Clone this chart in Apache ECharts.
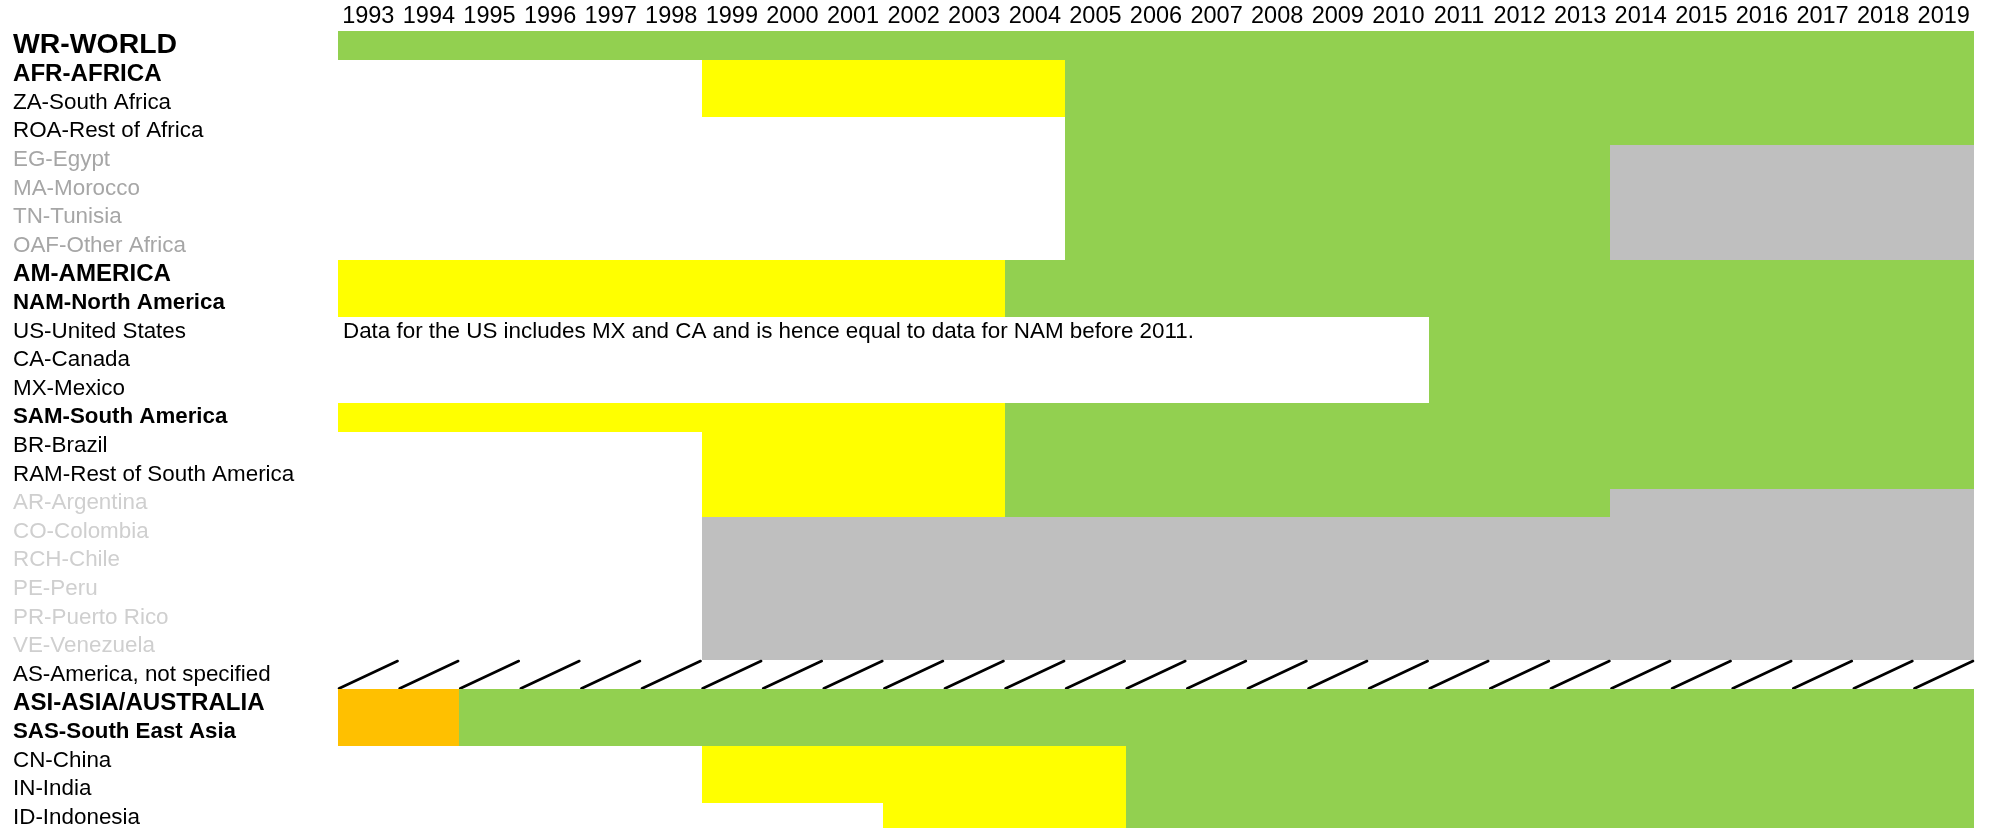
<!DOCTYPE html>
<html>
<head>
<meta charset="utf-8">
<script src="https://cdn.jsdelivr.net/npm/echarts@6/dist/echarts.min.js"></script>
<style>
  html, body { margin: 0; padding: 0; background: #fff; }
  #chart { width: 1989px; height: 828px; }
</style>
</head>
<body>
<div id="chart"></div>
<script>
// ---- data ----
const years = ['1993','1994','1995','1996','1997','1998','1999','2000','2001','2002','2003','2004','2005',
  '2006','2007','2008','2009','2010','2011','2012','2013','2014','2015','2016','2017','2018','2019'];

const regions = ['WR-WORLD','AFR-AFRICA','ZA-South Africa','ROA-Rest of Africa','EG-Egypt','MA-Morocco',
  'TN-Tunisia','OAF-Other Africa','AM-AMERICA','NAM-North America','US-United States','CA-Canada',
  'MX-Mexico','SAM-South America','BR-Brazil','RAM-Rest of South America','AR-Argentina','CO-Colombia',
  'RCH-Chile','PE-Peru','PR-Puerto Rico','VE-Venezuela','AS-America, not specified','ASI-ASIA/AUSTRALIA',
  'SAS-South East Asia','CN-China','IN-India','ID-Indonesia'];

// hierarchy level of each region row
const levels = ['world','continent','country','country','minorA','minorA','minorA','minorA',
  'continent','subregion','country','country','country','subregion','country','country',
  'minorB','minorB','minorB','minorB','minorB','minorB','country','continent','subregion',
  'country','country','country'];

// status codes: G = green, Y = yellow, O = orange, X = grey, H = not specified (diagonal)
const statuses = ['G','Y','O','X','H'];

// periods: [region, fromYear, toYear, status]
const periods = [
  ['WR-WORLD', '1993', '2019', 'G'],
  ['AFR-AFRICA', '1999', '2004', 'Y'], ['AFR-AFRICA', '2005', '2019', 'G'],
  ['ZA-South Africa', '1999', '2004', 'Y'], ['ZA-South Africa', '2005', '2019', 'G'],
  ['ROA-Rest of Africa', '2005', '2019', 'G'],
  ['EG-Egypt', '2005', '2013', 'G'], ['EG-Egypt', '2014', '2019', 'X'],
  ['MA-Morocco', '2005', '2013', 'G'], ['MA-Morocco', '2014', '2019', 'X'],
  ['TN-Tunisia', '2005', '2013', 'G'], ['TN-Tunisia', '2014', '2019', 'X'],
  ['OAF-Other Africa', '2005', '2013', 'G'], ['OAF-Other Africa', '2014', '2019', 'X'],
  ['AM-AMERICA', '1993', '2003', 'Y'], ['AM-AMERICA', '2004', '2019', 'G'],
  ['NAM-North America', '1993', '2003', 'Y'], ['NAM-North America', '2004', '2019', 'G'],
  ['US-United States', '2011', '2019', 'G'],
  ['CA-Canada', '2011', '2019', 'G'],
  ['MX-Mexico', '2011', '2019', 'G'],
  ['SAM-South America', '1993', '2003', 'Y'], ['SAM-South America', '2004', '2019', 'G'],
  ['BR-Brazil', '1999', '2003', 'Y'], ['BR-Brazil', '2004', '2019', 'G'],
  ['RAM-Rest of South America', '1999', '2003', 'Y'], ['RAM-Rest of South America', '2004', '2019', 'G'],
  ['AR-Argentina', '1999', '2003', 'Y'], ['AR-Argentina', '2004', '2013', 'G'], ['AR-Argentina', '2014', '2019', 'X'],
  ['CO-Colombia', '1999', '2019', 'X'],
  ['RCH-Chile', '1999', '2019', 'X'],
  ['PE-Peru', '1999', '2019', 'X'],
  ['PR-Puerto Rico', '1999', '2019', 'X'],
  ['VE-Venezuela', '1999', '2019', 'X'],
  ['AS-America, not specified', '1993', '2019', 'H'],
  ['ASI-ASIA/AUSTRALIA', '1993', '1994', 'O'], ['ASI-ASIA/AUSTRALIA', '1995', '2019', 'G'],
  ['SAS-South East Asia', '1993', '1994', 'O'], ['SAS-South East Asia', '1995', '2019', 'G'],
  ['CN-China', '1999', '2005', 'Y'], ['CN-China', '2006', '2019', 'G'],
  ['IN-India', '1999', '2005', 'Y'], ['IN-India', '2006', '2019', 'G'],
  ['ID-Indonesia', '2002', '2005', 'Y'], ['ID-Indonesia', '2006', '2019', 'G']
];

const notes = [
  ['US-United States', '1993', 'Data for the US includes MX and CA and is hence equal to data for NAM before 2011.']
];

// ---- styles ----
const FONT = "'Liberation Sans', Arial, sans-serif";
const statusColors = { G: '#92d050', Y: '#ffff00', O: '#ffc000', X: '#bfbfbf', H: null };

const periodData = periods.map(p => [years.indexOf(p[1]), years.indexOf(p[2]), regions.indexOf(p[0]), statuses.indexOf(p[3])]);
const noteData = notes.map(n => [years.indexOf(n[1]), regions.indexOf(n[0]), n[2]]);

const chart = echarts.init(document.getElementById('chart'), null, { renderer: 'canvas' });

chart.setOption({
  animation: false,
  backgroundColor: '#ffffff',
  grid: { left: 338, right: 15, top: 31, bottom: -4, outerBoundsMode: 'none', containLabel: false },
  xAxis: {
    type: 'category',
    data: years,
    position: 'top',
    axisLine: { show: false },
    axisTick: { show: false },
    splitLine: { show: false },
    axisLabel: { interval: 0, fontSize: 23.5, color: '#000', fontFamily: FONT, margin: 2 }
  },
  yAxis: {
    type: 'category',
    data: regions,
    inverse: true,
    axisLine: { show: false },
    axisTick: { show: false },
    splitLine: { show: false },
    axisLabel: {
      interval: 0,
      align: 'left',
      margin: 325,
      fontFamily: FONT,
      formatter: (value, idx) => '{' + levels[idx] + '|' + value + '}',
      rich: {
        world: { fontSize: 28.4, fontWeight: 'bold', color: '#000', fontFamily: FONT },
        continent: { fontSize: 24.1, fontWeight: 'bold', color: '#000', fontFamily: FONT },
        subregion: { fontSize: 22.3, fontWeight: 'bold', color: '#000', fontFamily: FONT },
        country: { fontSize: 22.4, color: '#000', fontFamily: FONT },
        minorA: { fontSize: 22.4, color: '#a6a6a6', fontFamily: FONT },
        minorB: { fontSize: 22.4, color: '#cfcfcf', fontFamily: FONT }
      }
    }
  },
  series: [
    {
      type: 'custom',
      encode: { x: [0, 1], y: 2 },
      data: periodData,
      clip: false,
      renderItem: (params, api) => {
        const s = api.value(0), e = api.value(1), r = api.value(2), st = statuses[api.value(3)];
        const p0 = api.coord([s, r]);
        const p1 = api.coord([e, r]);
        const sz = api.size([1, 1]);
        const x0 = Math.round(p0[0] - sz[0] / 2);
        const x1 = Math.round(p1[0] + sz[0] / 2);
        const y0 = Math.round(p0[1] - sz[1] / 2);
        const y1 = Math.round(p0[1] + sz[1] / 2);
        if (st === 'H') {
          const children = [];
          for (let i = s; i <= e; i++) {
            const c = api.coord([i, r]);
            const lx = c[0] - sz[0] / 2;
            children.push({
              type: 'line',
              shape: { x1: lx + 1, y1: y1 - 0.5, x2: lx + sz[0] - 1, y2: y0 + 1 },
              style: { stroke: '#000', lineWidth: 2.6, lineCap: 'round' }
            });
          }
          return { type: 'group', children };
        }
        return {
          type: 'rect',
          shape: { x: x0, y: y0, width: x1 - x0, height: y1 - y0 },
          style: { fill: statusColors[st] }
        };
      }
    },
    {
      type: 'custom',
      encode: { x: 0, y: 1 },
      data: noteData,
      clip: false,
      z: 5,
      renderItem: (params, api) => {
        const c = api.coord([api.value(0), api.value(1)]);
        const sz = api.size([1, 1]);
        return {
          type: 'text',
          style: {
            x: c[0] - sz[0] / 2 + 5,
            y: c[1],
            text: noteData[params.dataIndex][2],
            fontSize: 22.4,
            fontFamily: FONT,
            fill: '#000',
            align: 'left',
            verticalAlign: 'middle'
          }
        };
      }
    }
  ]
});
</script>
</body>
</html>
